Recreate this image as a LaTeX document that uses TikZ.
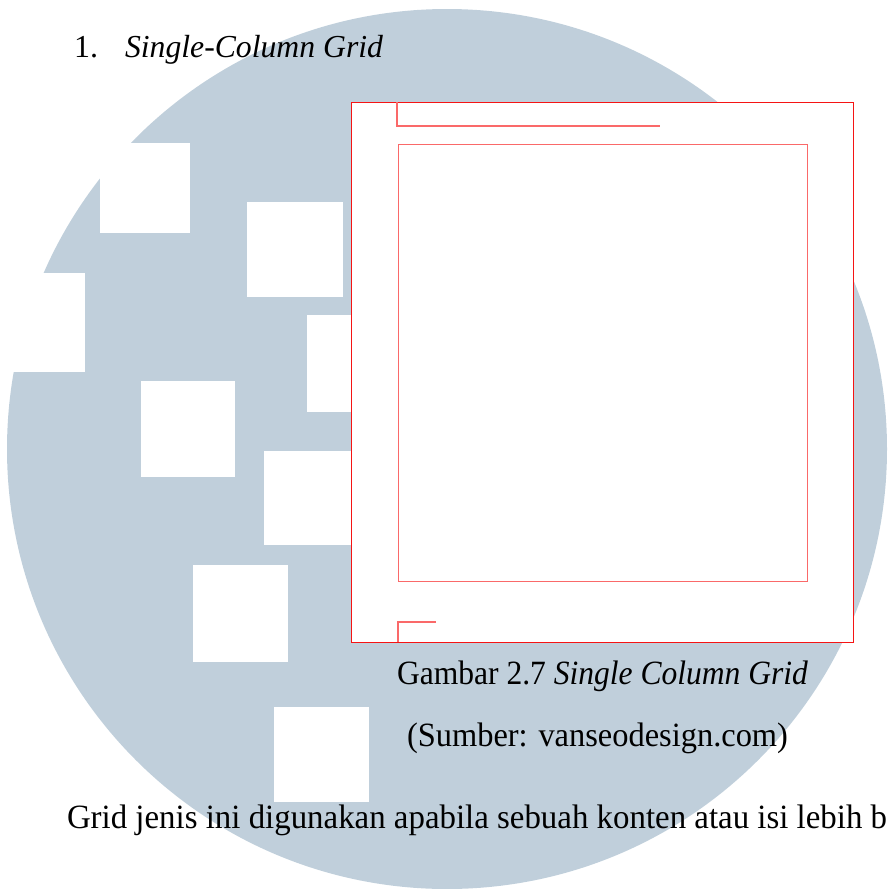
\documentclass[tikz,border=0pt]{standalone}
\usepackage{fontspec}
\setmainfont{Liberation Serif}
\usepackage{graphicx}
\definecolor{wmblue}{RGB}{192,207,219}
\definecolor{gridred}{RGB}{245,20,20}
\definecolor{guidered}{RGB}{250,105,105}
\tikzset{
  sq/.style={fill=white, draw=none},
  outerframe/.style={draw=gridred, fill=white, line width=1.1pt},
  guide/.style={draw=guidered, line width=1.2pt},
  txt/.style={anchor=base west, inner sep=0pt, outer sep=0pt, text=black}
}
\newcommand{\fitline}[3]{\resizebox{#1}{\height}{\fontsize{#2}{38}\selectfont #3}}
\begin{document}
\begin{tikzpicture}[x=1pt, y=-1pt]
\useasboundingbox (0,0) rectangle (889,889);
\begin{scope}
\clip (0,0) rectangle (889,889);
% watermark circle
\fill[wmblue] (447,449) circle (440);
% white squares
\fill[sq] (100,143) rectangle (190,233);
\fill[sq] (247,202) rectangle (343,297);
\fill[sq] (-10,273) rectangle (85,372);
\fill[sq] (307,315) rectangle (400,412);
\fill[sq] (141,381) rectangle (235,477);
\fill[sq] (264,451) rectangle (358,545);
\fill[sq] (193,565) rectangle (288,662);
\fill[sq] (274,707) rectangle (369,802);
% grid figure
\node[outerframe, minimum width=502pt, minimum height=540pt, anchor=north west, inner sep=0pt] (frame) at (351,102) {};
\node[guide, minimum width=409pt, minimum height=437pt, anchor=north west, inner sep=0pt] (col) at (398,144) {};
\coordinate (hTopA) at (397,102);
\coordinate (hTopB) at (397,126);
\coordinate (hTopC) at (660,126);
\draw[guide] (hTopA) -- (hTopB) -- (hTopC);
\coordinate (fBotA) at (398,642);
\coordinate (fBotB) at (398,622);
\coordinate (fBotC) at (436,622);
\draw[guide] (fBotA) -- (fBotB) -- (fBotC);
% texts
\node[txt] (num) at (74,57) {\fontsize{32}{38}\selectfont 1.};
\node[txt] (title) at (125,57) {\fitline{258pt}{32}{\itshape Single-Column Grid}};
\node[txt] (cap) at (397,684) {\fitline{411pt}{34}{Gambar 2.7 \textit{Single Column Grid}}};
\node[txt] (src) at (407,746) {\fitline{381pt}{34}{(Sumber: vanseodesign.com)}};
\node[txt] (body) at (67,828) {\fitline{820pt}{34}{Grid jenis ini digunakan apabila sebuah konten atau isi lebih b}};
\end{scope}
\end{tikzpicture}
\end{document}
